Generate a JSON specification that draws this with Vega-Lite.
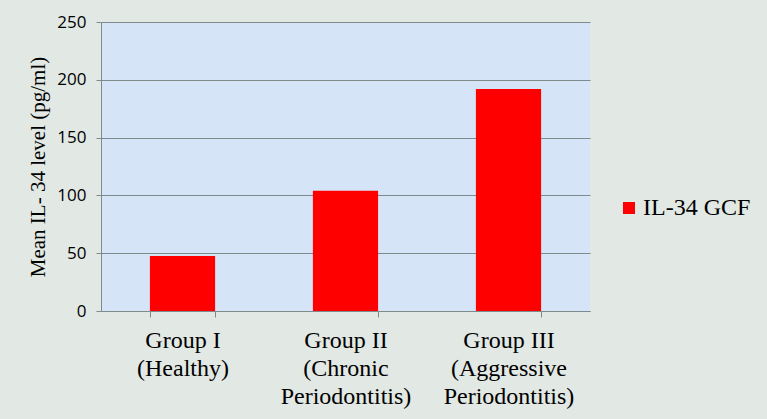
{
  "$schema": "https://vega.github.io/schema/vega-lite/v6.json",
  "width": 489,
  "height": 289,
  "autosize": {"type": "none"},
  "padding": {"left": 101, "top": 22, "right": 177, "bottom": 108},
  "background": "#e2e8e4",
  "data": {
    "values": [
      {"group": "Group I|(Healthy)", "series": "IL-34 GCF", "value": 47.5},
      {"group": "Group II|(Chronic|Periodontitis)", "series": "IL-34 GCF", "value": 104},
      {"group": "Group III|(Aggressive|Periodontitis)", "series": "IL-34 GCF", "value": 192}
    ]
  },
  "mark": {"type": "bar", "color": "#ff0000"},
  "encoding": {
    "x": {
      "field": "group",
      "type": "nominal",
      "sort": null,
      "scale": {"paddingInner": 0.6, "paddingOuter": 0.3},
      "axis": {
        "title": null,
        "labelAngle": 0,
        "labelExpr": "split(datum.label, '|')",
        "labelFont": "Liberation Serif",
        "labelFontSize": 24,
        "labelLineHeight": 28,
        "labelColor": "#000000",
        "labelPadding": 11,
        "tickBand": "extent",
        "tickSize": 6,
        "tickColor": "#7f8a8c",
        "domainColor": "#7f8a8c",
        "grid": false
      }
    },
    "y": {
      "field": "value",
      "type": "quantitative",
      "scale": {"domain": [0, 250], "nice": false},
      "axis": {
        "values": [0, 50, 100, 150, 200, 250],
        "title": "Mean IL- 34 level (pg/ml)",
        "titleFont": "Liberation Serif",
        "titleFontSize": 21,
        "titleFontWeight": "normal",
        "titleColor": "#000000",
        "titlePadding": 8,
        "labelFont": "Open Sans",
        "labelFontSize": 17,
        "labelColor": "#000000",
        "labelPadding": 10,
        "tickSize": 5,
        "tickColor": "#7f8a8c",
        "domainColor": "#7f8a8c",
        "gridColor": "#7f8a8c",
        "gridWidth": 1
      }
    },
    "color": {
      "field": "series",
      "type": "nominal",
      "scale": {"range": ["#ff0000"]},
      "legend": {
        "title": null,
        "orient": "none",
        "legendX": 516,
        "legendY": 174,
        "symbolType": "square",
        "symbolSize": 144,
        "symbolStrokeWidth": 0,
        "symbolOpacity": 1,
        "labelFont": "Liberation Serif",
        "labelFontSize": 24,
        "labelColor": "#000000",
        "labelOffset": 2
      }
    }
  },
  "config": {
    "font": "Liberation Serif",
    "view": {"fill": "#d5e5f7", "stroke": null}
  }
}
